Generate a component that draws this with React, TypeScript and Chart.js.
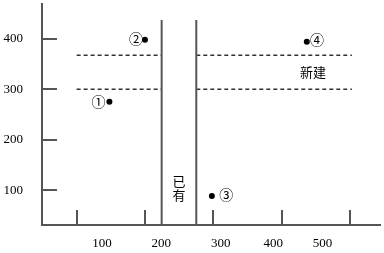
import { useEffect, useRef } from "react";
import { Chart, registerables } from "chart.js";
Chart.register(...registerables);

// sites (points)
const siteX = [148, 200, 298, 437];
const siteY = [275, 398, 89, 394];
const siteNames = ["①", "②", "③", "④"];
const siteNameX = [132, 187, 319, 452];
const siteNameY = [275, 399, 92, 398];

// axes
const xTickMarks = [100, 200, 300, 400, 500];
const xLabelText = ["100", "200", "300", "400", "500"];
const xLabelAt = [137, 224, 311, 388, 460];
const yTickMarks = [100, 200, 300, 400];

// zone boundaries
const dividerX = [224.5, 275.2];
const dividerTop = 437;
const dashY = [300, 367];
const dashLeft = [100, 224.5];
const dashRight = [275.2, 503];

// zone text
const zoneText = ["新建", "已", "有"];
const zoneX = [446, 250, 250];
const zoneY = [334, 119, 91];

const xMin = 49.3;
const xMax = 544.2;
const yMin = 31.4;
const yMax = 468.6;

const AXIS = "#555";

const overlay = {
  id: "overlay",
  afterDatasetsDraw(chart: any) {
    const { ctx, chartArea } = chart;
    const x = chart.scales.x;
    const y = chart.scales.y;
    ctx.save();
    ctx.strokeStyle = AXIS;
    ctx.lineWidth = 2;
    ctx.beginPath();
    yTickMarks.forEach((v) => {
      const py = Math.round(y.getPixelForValue(v));
      ctx.moveTo(chartArea.left, py);
      ctx.lineTo(chartArea.left + 15, py);
    });
    xTickMarks.forEach((v) => {
      const px = Math.round(x.getPixelForValue(v));
      ctx.moveTo(px, chartArea.bottom);
      ctx.lineTo(px, chartArea.bottom - 15);
    });
    ctx.stroke();

    ctx.fillStyle = "#000";
    ctx.textAlign = "center";
    ctx.textBaseline = "middle";
    ctx.font = '14px "Noto Sans CJK SC"';
    siteNames.forEach((t, i) => {
      ctx.fillText(t, x.getPixelForValue(siteNameX[i]), y.getPixelForValue(siteNameY[i]));
    });
    ctx.font = '13px "Noto Sans CJK SC"';
    zoneText.forEach((t, i) => {
      ctx.fillText(t, x.getPixelForValue(zoneX[i]), y.getPixelForValue(zoneY[i]));
    });
    ctx.restore();
  },
};

const noPad = (s: any) => {
  s.paddingTop = 0;
  s.paddingBottom = 0;
  s.paddingLeft = 0;
  s.paddingRight = 0;
};

export default function App() {
  const ref = useRef<HTMLCanvasElement>(null);
  useEffect(() => {
    if (!ref.current) return;
    const datasets: any[] = [];
    datasets.push({
      label: "sites",
      data: siteX.map((v, i) => ({ x: v, y: siteY[i] })),
      pointRadius: 3,
      pointBackgroundColor: "#000",
      pointBorderWidth: 0,
      showLine: false,
    });
    dividerX.forEach((dx) => {
      datasets.push({
        data: [
          { x: dx, y: yMin },
          { x: dx, y: dividerTop },
        ],
        showLine: true,
        borderColor: AXIS,
        borderWidth: 2,
        pointRadius: 0,
      });
    });
    dashY.forEach((dy) => {
      [dashLeft, dashRight].forEach((rng) => {
        datasets.push({
          data: [
            { x: rng[0], y: dy },
            { x: rng[1], y: dy },
          ],
          showLine: true,
          borderColor: "#333",
          borderWidth: 1.5,
          borderDash: [4, 3],
          pointRadius: 0,
        });
      });
    });

    const chart = new Chart(ref.current, {
      type: "scatter",
      data: { datasets },
      options: {
        animation: false,
        responsive: false,
        layout: { padding: { top: 2, right: 3, left: 0, bottom: 0 } },
        plugins: { legend: { display: false }, tooltip: { enabled: false } },
        scales: {
          x: {
            type: "linear",
            min: xMin,
            max: xMax,
            grid: { display: false, drawTicks: false },
            border: { display: true, color: AXIS, width: 2 },
            afterFit: (s: any) => {
              s.height = 28;
              noPad(s);
            },
            afterBuildTicks: (s: any) => {
              s.ticks = xLabelAt.map((v) => ({ value: v }));
            },
            ticks: {
              autoSkip: false,
              maxRotation: 0,
              padding: 11,
              color: "#000",
              font: { family: '"Liberation Serif"', size: 13 },
              callback: (_v: any, i: number) => xLabelText[i],
            },
          },
          y: {
            type: "linear",
            min: yMin,
            max: yMax,
            grid: { display: false, drawTicks: false },
            border: { display: true, color: AXIS, width: 2 },
            afterFit: (s: any) => {
              s.width = 42;
              noPad(s);
            },
            afterBuildTicks: (s: any) => {
              s.ticks = yTickMarks.map((v) => ({ value: v }));
            },
            ticks: {
              autoSkip: false,
              padding: 19,
              color: "#000",
              font: { family: '"Liberation Serif"', size: 13 },
              callback: (v: any) => String(v),
            },
          },
        },
      },
      plugins: [overlay],
    });
    return () => chart.destroy();
  }, []);
  return (
    <div style={{ position: "fixed", left: 0, top: 0, width: 384, height: 253, background: "#fff" }}>
      <canvas ref={ref} width={384} height={253} style={{ width: 384, height: 253 }} />
    </div>
  );
}
